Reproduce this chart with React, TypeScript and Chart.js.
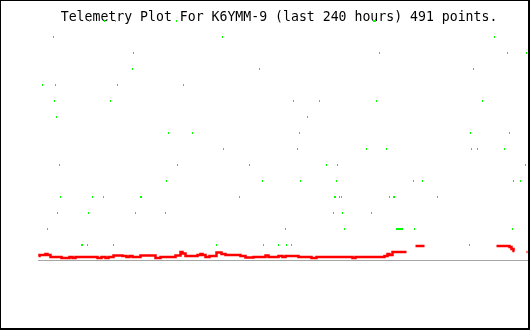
import { useEffect, useRef } from 'react';
import { Chart, registerables } from 'chart.js';

Chart.register(...registerables);

const TITLE = 'Telemetry Plot For K6YMM-9 (last 240 hours) 491 points. ';

// x = sample index (0..490), one sample per time slot over the last 240 hours
// Green series: sample indices where the value equals level (index+1)
const greenByLevel: number[][] = [
  [43, 44, 49, 75, 178, 225, 240, 248, 253, 431], // 1
  [9, 247, 306, 358, 359, 360, 361, 362, 363, 364, 376, 474], // 2
  [19, 50, 97, 127, 295, 304, 333], // 3
  [22, 54, 65, 102, 103, 201, 296, 297, 301, 303, 351, 355, 356, 399], // 4
  [128, 224, 262, 298, 375, 384, 475, 482], // 5
  [21, 139, 211, 288, 299, 487], // 6
  [185, 259, 328, 348, 433, 439, 466], // 7
  [130, 154, 261, 432, 471], // 8
  [18, 269], // 9
  [16, 72, 255, 281, 338, 444], // 10
  [4, 17, 79, 145], // 11
  [94, 221, 435], // 12
  [95, 341, 469, 488], // 13
  [15, 184, 456], // 14
  [51, 66, 77, 138, 335, 336, 337], // 15
];

// Red series as runs of samples: from, to, level (null = no data)
const redFrom = [0, 1, 7, 9, 12, 23, 31, 34, 37, 59, 63, 67, 70, 75, 84, 88, 91, 94, 102, 117, 122, 137, 142, 144, 147, 159, 162, 164, 167, 171, 178, 183, 187, 202, 207, 215, 227, 230, 240, 244, 247, 260, 273, 278, 314, 317, 346, 349, 351, 354, 368, 377, 386, 458, 471, 473, 475, 476, 488];
const redTo = [1, 7, 9, 12, 23, 31, 34, 37, 59, 63, 67, 70, 75, 84, 88, 91, 94, 102, 117, 122, 137, 142, 144, 147, 159, 162, 164, 167, 171, 178, 183, 187, 202, 207, 215, 227, 230, 240, 244, 247, 260, 273, 278, 314, 317, 346, 349, 351, 354, 368, 377, 386, 458, 471, 473, 475, 476, 488, 489];
const redLevel: (number | null)[] = [0.31, 0.375, 0.44, 0.375, 0.25, 0.19, 0.25, 0.19, 0.25, 0.19, 0.25, 0.19, 0.25, 0.34, 0.31, 0.25, 0.31, 0.25, 0.34, 0.19, 0.25, 0.34, 0.56, 0.47, 0.31, 0.375, 0.44, 0.375, 0.25, 0.31, 0.53, 0.44, 0.375, 0.31, 0.22, 0.25, 0.34, 0.25, 0.31, 0.25, 0.31, 0.25, 0.19, 0.25, 0.19, 0.25, 0.31, 0.44, 0.375, 0.56, null, 0.94, null, 0.94, 0.875, 0.75, 0.625, null, 0.56];

const X_MIN = -0.5;
const X_MAX = 489.5;
const Y_MIN = 0;
const Y_MAX = 14.5;

export default function App() {
  const ref = useRef<HTMLCanvasElement | null>(null);

  useEffect(() => {
    if (!ref.current) return;
    const dot = document.createElement('canvas');
    dot.width = 1;
    dot.height = 2;
    const dctx = dot.getContext('2d');
    if (dctx) {
      dctx.fillStyle = '#00ff00';
      dctx.fillRect(0, 0, 1, 2);
    }

    const greenPoints: { x: number; y: number }[] = [];
    greenByLevel.forEach((xs, i) => xs.forEach((x) => greenPoints.push({ x, y: i + 1 })));

    const redPoints: { x: number; y: number | null }[] = [];
    redFrom.forEach((f, i) => {
      const v = redLevel[i];
      if (v === null) {
        redPoints.push({ x: (f + redTo[i]) / 2, y: null });
      } else {
        redPoints.push({ x: f, y: v });
        redPoints.push({ x: redTo[i], y: v });
      }
    });

    const chart = new Chart(ref.current, {
      type: 'scatter',
      data: {
        datasets: [
          {
            label: 'baseline',
            type: 'line',
            data: [
              { x: X_MIN, y: 0 },
              { x: X_MAX, y: 0 },
            ],
            borderColor: '#a6a6a6',
            borderWidth: 2,
            pointRadius: 0,
            order: 3,
          } as any,
          {
            label: 'red',
            type: 'line',
            data: redPoints,
            borderColor: '#ff0000',
            borderWidth: 2.5,
            pointRadius: 0,
            spanGaps: false,
            order: 2,
          } as any,
          {
            label: 'green',
            data: greenPoints,
            pointStyle: dot,
            pointRadius: 12,
            clip: false,
            order: 1,
          } as any,
        ],
      },
      options: {
        animation: false,
        responsive: false,
        events: [],
        layout: { autoPadding: false, padding: { left: 37, right: 0, top: 0, bottom: 67 } },
        plugins: {
          legend: { display: false },
          tooltip: { enabled: false },
          title: {
            display: true,
            text: TITLE,
            color: '#000000',
            font: { family: '"DejaVu Sans Mono", monospace', size: 13.2, weight: 'normal', lineHeight: 1.2 },
            padding: { top: 9, bottom: 3.3 },
          },
        },
        scales: {
          x: { type: 'linear', min: X_MIN, max: X_MAX, display: false },
          y: { type: 'linear', min: Y_MIN, max: Y_MAX, display: false },
        },
      } as any,
    });
    return () => chart.destroy();
  }, []);

  return (
    <div style={{ position: 'absolute', left: 0, top: 0, width: 530, height: 330, background: '#ffffff' }}>
      <canvas
        ref={ref}
        width={527}
        height={327}
        style={{
          display: 'block',
          boxSizing: 'content-box',
          width: 527,
          height: 327,
          borderStyle: 'solid',
          borderColor: '#000000',
          borderWidth: '1px 2px 2px 1px',
          background: '#ffffff',
        }}
      />
    </div>
  );
}
